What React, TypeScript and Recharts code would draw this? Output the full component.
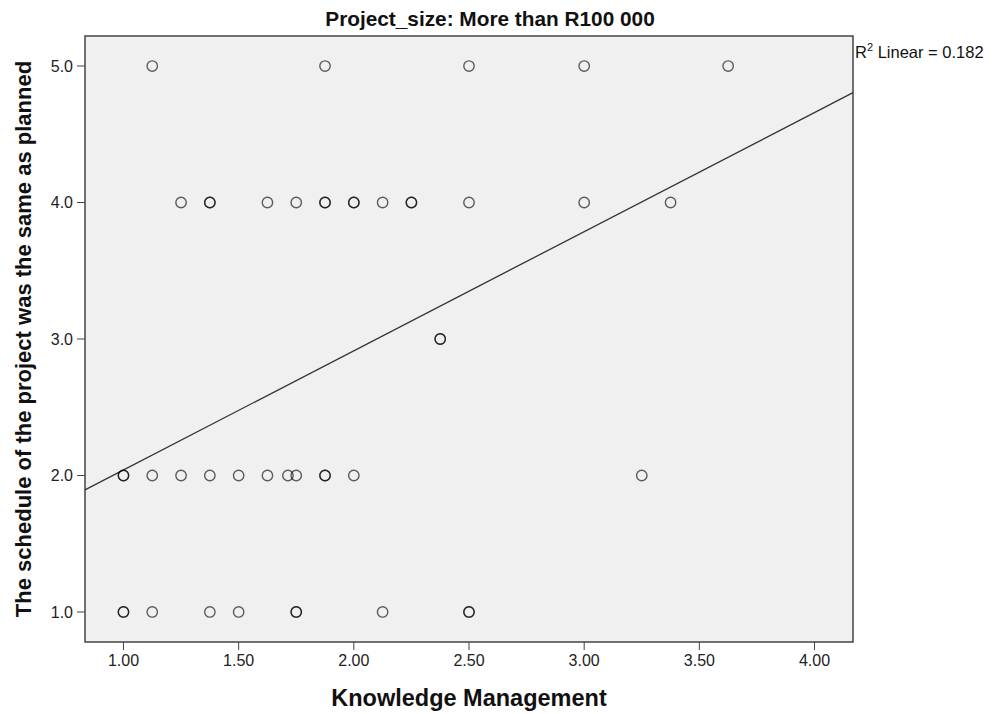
import {
  CartesianGrid,
  Customized,
  Label,
  ReferenceArea,
  ReferenceLine,
  Scatter,
  ScatterChart,
  XAxis,
  YAxis,
} from 'recharts'

// Knowledge Management scores, one list per schedule rating (duplicates kept)
const kmAt5 = [1.125, 1.875, 2.5, 3.0, 3.625]
const kmAt4 = [
  1.25, 1.375, 1.375, 1.625, 1.75, 1.875, 1.875, 2.0, 2.0, 2.125, 2.25, 2.25,
  2.5, 3.0, 3.375,
]
const kmAt3 = [2.375, 2.375]
const kmAt2 = [
  1.0, 1.0, 1.125, 1.25, 1.375, 1.5, 1.625, 1.714, 1.75, 1.875, 1.875, 2.0,
  3.25,
]
const kmAt1 = [1.0, 1.0, 1.125, 1.375, 1.5, 1.75, 1.75, 2.125, 2.5, 2.5]

const xTicks = [1, 1.5, 2, 2.5, 3, 3.5, 4]
const yTicks = [1, 2, 3, 4, 5]
const xDomain: [number, number] = [0.833, 4.167]
const yDomain: [number, number] = [0.78, 5.22]

// fit line ends, read at the plot edges
const fitLine = [
  { x: 0.833, y: 1.895 },
  { x: 4.167, y: 4.805 },
]

const points = [
  ...kmAt5.map((x) => ({ x, y: 5 })),
  ...kmAt4.map((x) => ({ x, y: 4 })),
  ...kmAt3.map((x) => ({ x, y: 3 })),
  ...kmAt2.map((x) => ({ x, y: 2 })),
  ...kmAt1.map((x) => ({ x, y: 1 })),
]

const FONT = '"Liberation Sans", Arial, sans-serif'

function Ring(props: any) {
  const { cx, cy } = props
  return (
    <circle
      cx={cx}
      cy={cy}
      r={5.2}
      fill="none"
      stroke="#000"
      strokeOpacity={0.62}
      strokeWidth={1.4}
    />
  )
}

function Annotations() {
  return (
    <g fontFamily={FONT}>
      <text
        x={490}
        y={26}
        textAnchor="middle"
        fontSize={20.8}
        fontWeight="bold"
        fill="#111"
      >
        Project_size: More than R100 000
      </text>
      <text x={855} y={58} fontSize={16.5} fill="#111">
        R<tspan fontSize={11} dy={-7}>2</tspan>
        <tspan dy={7}> Linear = 0.182</tspan>
      </text>
    </g>
  )
}

export default function App() {
  return (
    <div style={{ position: 'absolute', left: 0, top: 0 }}>
      <ScatterChart
        width={997}
        height={714}
        margin={{ top: 36, right: 144, bottom: 0, left: 0 }}
        style={{ fontFamily: FONT }}
      >
        <CartesianGrid
          fill="#f0f0f0"
          horizontal={false}
          vertical={false}
        />
        <XAxis
          type="number"
          dataKey="x"
          domain={xDomain}
          ticks={xTicks}
          allowDataOverflow
          height={72}
          tickSize={8}
          tickMargin={5}
          tickFormatter={(v: number) => v.toFixed(2)}
          tick={{ fontSize: 16, fill: '#222' }}
          stroke="#444"
          axisLine={false}
        >
          <Label
            content={({ viewBox }: any) => (
              <text
                x={viewBox.x + viewBox.width / 2}
                y={viewBox.y + 64}
                textAnchor="middle"
                fontSize={23.5}
                fontWeight="bold"
                fill="#111"
                fontFamily={FONT}
              >
                Knowledge Management
              </text>
            )}
          />
        </XAxis>
        <YAxis
          type="number"
          dataKey="y"
          domain={yDomain}
          ticks={yTicks}
          allowDataOverflow
          width={85}
          tickSize={8}
          tickMargin={4}
          tickFormatter={(v: number) => v.toFixed(1)}
          tick={{ fontSize: 16, fill: '#222' }}
          stroke="#444"
          axisLine={false}
        >
          <Label
            content={({ viewBox }: any) => {
              const cy = viewBox.y + viewBox.height / 2
              return (
                <text
                  x={31}
                  y={cy}
                  transform={`rotate(-90 31 ${cy})`}
                  textAnchor="middle"
                  fontSize={22}
                  fontWeight="bold"
                  fill="#111"
                  fontFamily={FONT}
                >
                  The schedule of the project was the same as planned
                </text>
              )
            }}
          />
        </YAxis>
        <ReferenceArea
          x1={xDomain[0]}
          x2={xDomain[1]}
          y1={yDomain[0]}
          y2={yDomain[1]}
          fill="none"
          stroke="#444"
          strokeWidth={1.5}
          ifOverflow="visible"
        />
        <ReferenceLine
          segment={fitLine}
          stroke="#333"
          strokeWidth={1.3}
          ifOverflow="visible"
        />
        <Scatter data={points} shape={Ring} isAnimationActive={false} />
        <Customized component={Annotations} />
      </ScatterChart>
    </div>
  )
}
